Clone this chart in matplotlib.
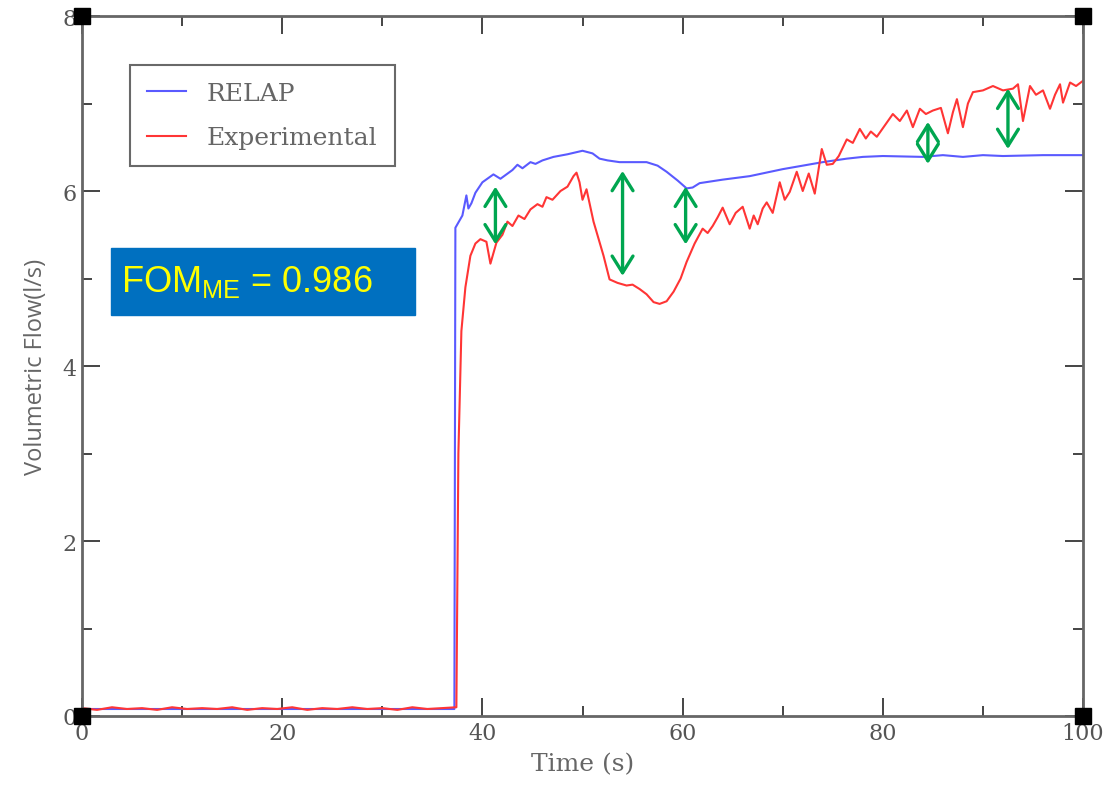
import matplotlib
matplotlib.use("Agg")
import matplotlib.pyplot as plt
from matplotlib.patches import Rectangle

# ── Data ─────────────────────────────────────────────────────────
relap_t = [0, 37.2, 37.3, 38.0, 38.4, 38.6, 38.9, 39.3, 40.0, 41.1, 41.8, 43.0,
           43.5, 44.0, 44.8, 45.3, 46.0, 47.1, 48.5, 50.0, 51.0, 51.7, 52.5,
           53.7, 56.4, 57.5, 58.4, 59.5, 60.4, 61.0, 61.7, 64.0, 66.7, 70.0,
           74.0, 76.4, 78.0, 80.0, 84.0, 86.0, 88.0, 90.0, 92.0, 96.0, 100.0]
relap_v = [0.08, 0.08, 5.58, 5.72, 5.95, 5.80, 5.86, 5.98, 6.10, 6.19, 6.14, 6.24,
           6.30, 6.26, 6.33, 6.31, 6.35, 6.39, 6.42, 6.46, 6.43, 6.37, 6.35,
           6.33, 6.33, 6.29, 6.22, 6.12, 6.03, 6.04, 6.09, 6.13, 6.17, 6.25,
           6.33, 6.37, 6.39, 6.40, 6.39, 6.41, 6.39, 6.41, 6.40, 6.41, 6.41]

exp_t = [0, 1.5, 3, 4.5, 6, 7.5, 9, 10.5, 12, 13.5, 15, 16.5, 18, 19.5, 21, 22.5,
         24, 25.5, 27, 28.5, 30, 31.5, 33, 34.5, 36, 37.4,
         37.6, 37.9, 38.3, 38.8, 39.3, 39.8, 40.4, 40.8, 41.4, 42.0, 42.5, 43.0,
         43.6, 44.2, 44.8, 45.5, 46.0, 46.4, 47.0, 47.8, 48.5, 49.1, 49.4, 49.7,
         50.0, 50.4, 51.1, 52.1, 52.7, 53.5, 54.4, 55.0, 55.7, 56.4, 57.1, 57.7,
         58.4, 59.1, 59.8, 60.4, 61.2, 62.0, 62.5, 63.0, 63.5, 64.0, 64.7, 65.3,
         66.0, 66.7, 67.1, 67.5, 68.0, 68.4, 69.0, 69.7, 70.2, 70.7, 71.4, 72.0,
         72.6, 73.2, 73.9, 74.4, 75.0, 75.6, 76.4, 77.0, 77.7, 78.3, 78.8, 79.4,
         80.2, 81.0, 81.7, 82.4, 83.0, 83.7, 84.3, 85.0, 85.8, 86.5, 87.0, 87.4,
         88.0, 88.5, 89.0, 90.0, 91.0, 92.0, 93.0, 93.5, 94.0, 94.7, 95.3, 96.0,
         96.7, 97.2, 97.7, 98.0, 98.7, 99.3, 100.0]
exp_v = [0.09, 0.07, 0.10, 0.08, 0.09, 0.07, 0.10, 0.08, 0.09, 0.08, 0.10, 0.07,
         0.09, 0.08, 0.10, 0.07, 0.09, 0.08, 0.10, 0.08, 0.09, 0.07, 0.10, 0.08,
         0.09, 0.10,
         3.00, 4.40, 4.90, 5.26, 5.40, 5.45, 5.42, 5.17, 5.41, 5.50, 5.65, 5.60,
         5.72, 5.68, 5.79, 5.85, 5.82, 5.93, 5.90, 6.00, 6.05, 6.17, 6.21, 6.10,
         5.90, 6.02, 5.65, 5.26, 4.99, 4.95, 4.92, 4.93, 4.88, 4.82, 4.73, 4.71,
         4.74, 4.85, 5.00, 5.19, 5.40, 5.57, 5.52, 5.60, 5.70, 5.81, 5.62, 5.75,
         5.82, 5.57, 5.72, 5.62, 5.80, 5.87, 5.75, 6.10, 5.90, 5.99, 6.22, 6.00,
         6.20, 5.97, 6.48, 6.30, 6.31, 6.40, 6.59, 6.55, 6.71, 6.60, 6.68, 6.62,
         6.75, 6.88, 6.80, 6.92, 6.73, 6.94, 6.88, 6.92, 6.95, 6.66, 6.90, 7.05,
         6.73, 7.00, 7.13, 7.15, 7.20, 7.15, 7.17, 7.22, 6.80, 7.20, 7.10, 7.15,
         6.94, 7.10, 7.22, 7.01, 7.24, 7.20, 7.26]

# difference arrows (time, low, high)
arrow_t  = [41.3, 54.0, 60.3, 84.5, 92.5]
arrow_lo = [5.39, 5.03, 5.39, 6.31, 6.48]
arrow_hi = [6.05, 6.23, 6.05, 6.79, 7.17]

GREY = "#666666"
plt.rcParams.update({
    "font.family": "DejaVu Serif",
    "text.color": GREY,
    "axes.labelcolor": GREY,
    "xtick.color": "#555555",
    "ytick.color": "#555555",
})

fig = plt.figure(figsize=(11.17, 8.03), dpi=100)
ax = fig.add_axes([0.0734, 0.1071, 0.8962, 0.8717])

ax.plot(relap_t, relap_v, color="#5a5aff", lw=1.5, label="RELAP")
ax.plot(exp_t, exp_v, color="#ff3535", lw=1.5, label="Experimental")

for t, lo, hi in zip(arrow_t, arrow_lo, arrow_hi):
    ax.annotate("", xy=(t, hi), xytext=(t, lo),
                arrowprops=dict(arrowstyle="<->,head_length=1.2,head_width=0.75",
                                color="#00a650", lw=2.4,
                                shrinkA=0, shrinkB=0))

ax.set_xlim(0, 100)
ax.set_ylim(0, 8)
ax.set_xticks([0, 20, 40, 60, 80, 100])
ax.set_xticks([10, 30, 50, 70, 90], minor=True)
ax.set_yticks([0, 2, 4, 6, 8])
ax.set_yticks([1, 3, 5, 7], minor=True)
ax.tick_params(which="both", direction="in", top=True, right=True,
               labelsize=16, width=1.4, color="#444444")
ax.tick_params(which="major", length=13, pad=4)
ax.tick_params(which="minor", length=7)
for sp in ax.spines.values():
    sp.set_color("#666666")
    sp.set_linewidth(2)

# corner squares
ax.plot([0, 100, 0, 100], [0, 0, 8, 8], "s", color="black", ms=11,
        clip_on=False, zorder=5)

ax.set_xlabel("Time (s)", fontsize=18, labelpad=6)
ax.set_ylabel("Volumetric Flow(l/s)", family="Open Sans", fontsize=17,
              labelpad=10)

leg = ax.legend(loc="upper left", bbox_to_anchor=(0.048, 0.930),
                borderaxespad=0, fontsize=18, fancybox=False,
                handlelength=1.55, borderpad=0.68, labelspacing=0.85,
                handletextpad=0.85)
leg.get_frame().set_edgecolor("#444444")
leg.get_frame().set_linewidth(1.5)

# FOM box
fig.patches.append(Rectangle((111 / 1117, 1 - 316 / 803), 304 / 1117, 67 / 803,
                             transform=fig.transFigure, color="#0070c0",
                             zorder=10))
fig.text(121 / 1117, 1 - 282 / 803, "FOM$_{\\mathregular{ME}}$ = 0.986",
         family="Liberation Sans", fontsize=26, color="#ffff00",
         va="center", ha="left", zorder=11)

fig.savefig("out.png", dpi=100)
